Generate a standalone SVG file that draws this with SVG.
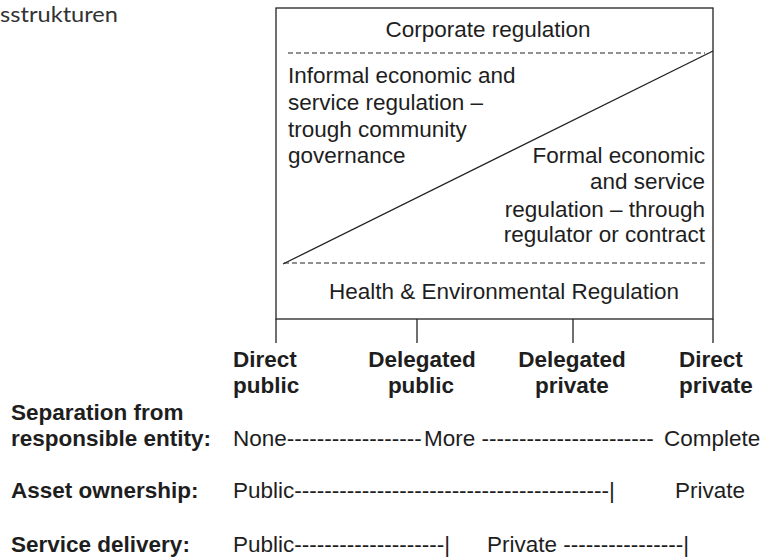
<svg xmlns="http://www.w3.org/2000/svg" width="767" height="559" viewBox="0 0 767 559">
<style>
  .t { font-family: "Liberation Sans", Arial, sans-serif; font-size: 22.5px; fill: #1e1e1e; }
  .b { font-weight: bold; }
  .e { text-anchor: end; }
  .m { text-anchor: middle; }
  .ln { stroke: #222; stroke-width: 1.3; fill: none; }
  .dash { stroke: #222; stroke-width: 1.2; stroke-dasharray: 5 3; fill: none; }
</style>
<rect width="767" height="559" fill="#ffffff"/>
<text x="0" y="22" font-family="Lato, 'Noto Sans', sans-serif" font-size="22" fill="#333" textLength="118" lengthAdjust="spacingAndGlyphs">sstrukturen</text>

<g id="regulation-box">
  <rect class="ln" x="276" y="8" width="437" height="311"/>
  <text class="t m" x="488" y="37">Corporate regulation</text>
  <text class="t m" x="504" y="299">Health &amp; Environmental Regulation</text>
</g>

<g id="informal-regulation">
  <text class="t" x="288" y="83">Informal economic and</text>
  <text class="t" x="288" y="110">service regulation –</text>
  <text class="t" x="288" y="137">trough community</text>
  <text class="t" x="288" y="163">governance</text>
</g>

<g id="formal-regulation">
  <text class="t e" x="705" y="163">Formal economic</text>
  <text class="t e" x="705" y="189">and service</text>
  <text class="t e" x="705" y="217">regulation – through</text>
  <text class="t e" x="705" y="242">regulator or contract</text>
</g>

<g id="connectors">
  <line class="dash" x1="288" y1="53" x2="705" y2="53"/>
  <line class="dash" x1="284" y1="263" x2="705" y2="263"/>
  <line class="ln" x1="283" y1="264" x2="713" y2="51"/>
  <line class="ln" x1="276" y1="319" x2="276" y2="343"/>
  <line class="ln" x1="417" y1="319" x2="417" y2="343"/>
  <line class="ln" x1="573" y1="319" x2="573" y2="343"/>
  <line class="ln" x1="713" y1="319" x2="713" y2="343"/>
</g>

<g id="direct-public">
  <text class="t b" x="233" y="367">Direct</text>
  <text class="t b" x="233" y="393">public</text>
</g>
<g id="delegated-public">
  <text class="t b m" x="422" y="367">Delegated</text>
  <text class="t b m" x="421" y="393">public</text>
</g>
<g id="delegated-private">
  <text class="t b m" x="572" y="367">Delegated</text>
  <text class="t b m" x="572" y="393">private</text>
</g>
<g id="direct-private">
  <text class="t b" x="679" y="367">Direct</text>
  <text class="t b" x="679" y="393">private</text>
</g>

<g id="separation">
  <text class="t b" x="11" y="420">Separation from</text>
  <text class="t b" x="11" y="446">responsible entity:</text>
  <text class="t" y="446"><tspan x="233">None------------------</tspan><tspan x="424">More -----------------------</tspan><tspan x="664">Complete</tspan></text>
</g>

<g id="asset-ownership">
  <text class="t b" x="11" y="498">Asset ownership:</text>
  <text class="t" y="498"><tspan x="233">Public------------------------------------------|</tspan><tspan x="675">Private</tspan></text>
</g>

<g id="service-delivery">
  <text class="t b" x="11" y="552">Service delivery:</text>
  <text class="t" y="552"><tspan x="233">Public--------------------|</tspan><tspan x="487">Private ----------------|</tspan></text>
</g>
</svg>
